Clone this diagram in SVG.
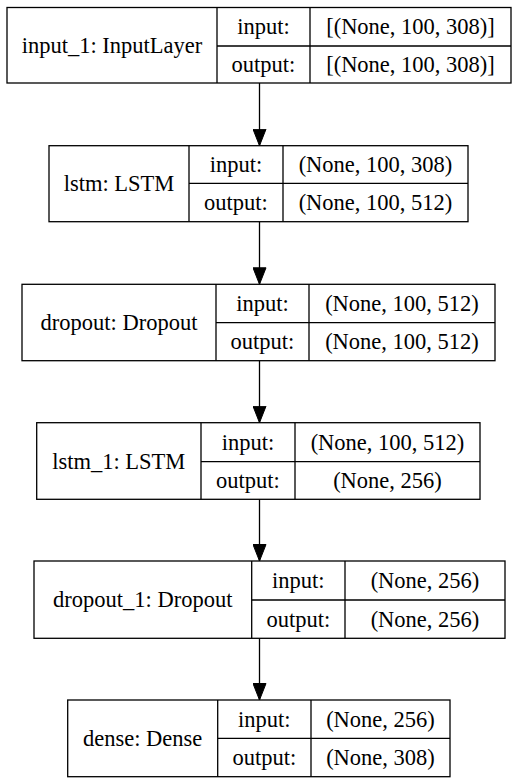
<svg xmlns="http://www.w3.org/2000/svg" width="519" height="778" viewBox="0 0 519 778">
<style>
.b{fill:none;stroke:#000;stroke-width:1.3}
text{font-family:'Liberation Serif','Times New Roman',serif;font-size:22.5px;fill:#000;text-anchor:middle}
.e{stroke:#000;stroke-width:1.3;fill:none}
</style>
<defs>
<marker id="ah" markerUnits="userSpaceOnUse" markerWidth="17" markerHeight="14" refX="17" refY="7" orient="auto" viewBox="0 0 17 14">
<path d="M0.5,0.5 L17,7 L0.5,13.5 Z" fill="#000" stroke="#000" stroke-width="1"/>
</marker>
</defs>
<rect width="519" height="778" fill="#fff"/>
<g id="connectors">
<line class="e" x1="259.5" y1="83" x2="259.5" y2="145.7" marker-end="url(#ah)"/>
<line class="e" x1="259.5" y1="221.7" x2="259.5" y2="284.3" marker-end="url(#ah)"/>
<line class="e" x1="259.5" y1="360.7" x2="259.5" y2="422.7" marker-end="url(#ah)"/>
<line class="e" x1="259.5" y1="499.3" x2="259.5" y2="561" marker-end="url(#ah)"/>
<line class="e" x1="259.5" y1="638.3" x2="259.5" y2="700" marker-end="url(#ah)"/>
</g>
<g id="input_1">
<rect class="b" x="7" y="7.5" width="504" height="75.5"/>
<path class="b" d="M217,7.5V83M310,7.5V83M217,46H511"/>
<text x="112" y="53">input_1: InputLayer</text>
<text x="263.5" y="34">input:</text>
<text x="410.5" y="34">[(None, 100, 308)]</text>
<text x="263.5" y="72">output:</text>
<text x="410.5" y="72">[(None, 100, 308)]</text>
</g>
<g id="lstm">
<rect class="b" x="49" y="145.7" width="419" height="76"/>
<path class="b" d="M189,145.7V221.7M283,145.7V221.7M189,183.3H468"/>
<text x="119" y="191.2">lstm: LSTM</text>
<text x="236" y="172">input:</text>
<text x="375.5" y="172">(None, 100, 308)</text>
<text x="236" y="210">output:</text>
<text x="375.5" y="210">(None, 100, 512)</text>
</g>
<g id="dropout">
<rect class="b" x="22" y="284.3" width="473" height="76.4"/>
<path class="b" d="M216,284.3V360.7M309,284.3V360.7M216,322.7H495"/>
<text x="119" y="330">dropout: Dropout</text>
<text x="262.5" y="311">input:</text>
<text x="402" y="311">(None, 100, 512)</text>
<text x="262.5" y="349.2">output:</text>
<text x="402" y="349.2">(None, 100, 512)</text>
</g>
<g id="lstm_1">
<rect class="b" x="36.7" y="422.7" width="443.3" height="76.6"/>
<path class="b" d="M201,422.7V499.3M295,422.7V499.3M201,461.7H480"/>
<text x="118.8" y="468.5">lstm_1: LSTM</text>
<text x="248" y="449.7">input:</text>
<text x="387.5" y="449.7">(None, 100, 512)</text>
<text x="248" y="488">output:</text>
<text x="387.5" y="488">(None, 256)</text>
</g>
<g id="dropout_1">
<rect class="b" x="34" y="561" width="471" height="77.3"/>
<path class="b" d="M251.7,561V638.3M345,561V638.3M251.7,600H505"/>
<text x="142.8" y="607.2">dropout_1: Dropout</text>
<text x="298.3" y="588">input:</text>
<text x="425" y="588">(None, 256)</text>
<text x="298.3" y="626.7">output:</text>
<text x="425" y="626.7">(None, 256)</text>
</g>
<g id="dense">
<rect class="b" x="67.7" y="700" width="382.3" height="76.7"/>
<path class="b" d="M217.7,700V776.7M311,700V776.7M217.7,738.3H450"/>
<text x="142.7" y="745.8">dense: Dense</text>
<text x="264.3" y="726.7">input:</text>
<text x="380.5" y="726.7">(None, 256)</text>
<text x="264.3" y="765">output:</text>
<text x="380.5" y="765">(None, 308)</text>
</g>
</svg>
